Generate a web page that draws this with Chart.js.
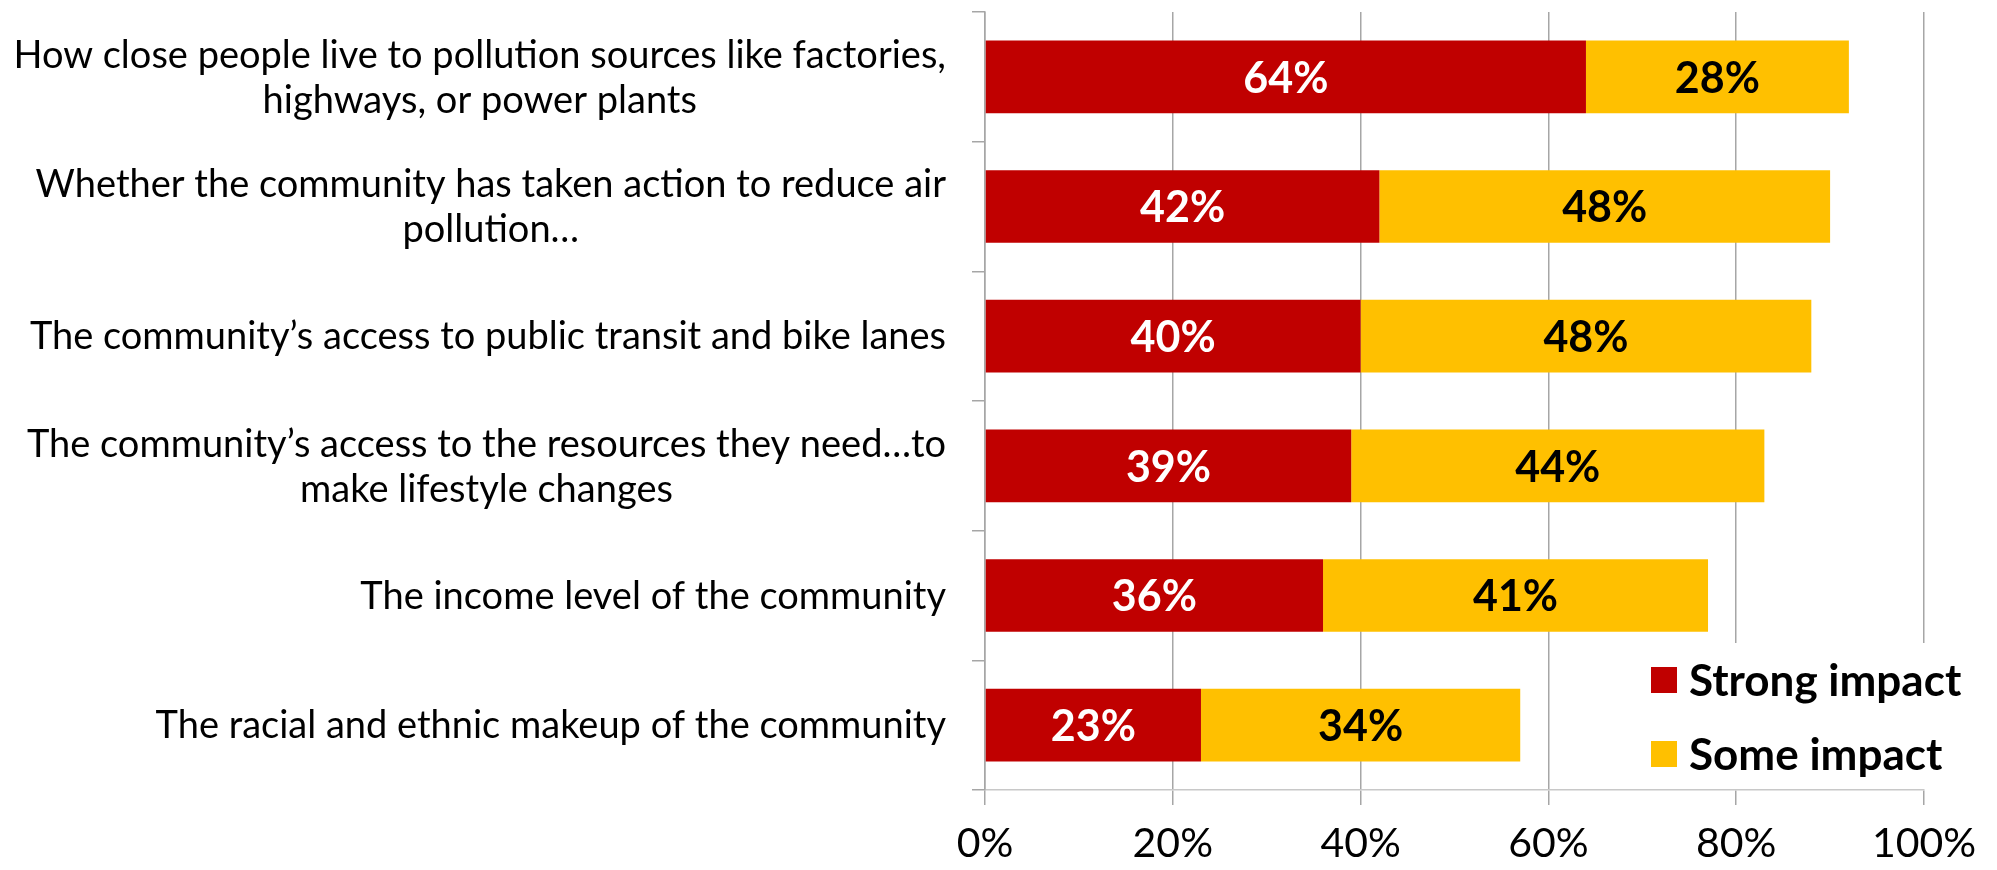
<!DOCTYPE html>
<html>
<head>
<meta charset="utf-8">
<script src="https://cdn.jsdelivr.net/npm/chart.js@4.4.1/dist/chart.umd.min.js"></script>
<style>
    html, body { margin: 0; padding: 0; background: #fff; }
    #wrap { width: 1997px; height: 870px; }
</style>
</head>
<body>
<div id="wrap"><canvas id="impactChart"></canvas></div>
<script>
// categories (one array of lines per label)
const categories = [
    ['How close people live to pollution sources like factories,', 'highways, or power plants'],
    ['Whether the community has taken action to reduce air', 'pollution…'],
    ['The community’s access to public transit and bike lanes'],
    ['The community’s access to the resources they need…to', 'make lifestyle changes'],
    ['The income level of the community'],
    ['The racial and ethnic makeup of the community']
];
const seriesNames = ['Strong impact', 'Some impact'];
const strongImpact = [64, 42, 40, 39, 36, 23];
const someImpact = [28, 48, 48, 44, 41, 34];
const xTickValues = [0, 20, 40, 60, 80, 100];

const FONT = 'Lato, "Open Sans", sans-serif';
const RED = '#C00000';
const YELLOW = '#FFC000';

// value labels inside each bar segment
const barLabels = {
    id: 'barLabels',
    afterDatasetsDraw(chart) {
        const ctx = chart.ctx;
        ctx.save();
        ctx.font = 'bold 43px ' + FONT;
        ctx.textAlign = 'center';
        ctx.textBaseline = 'middle';
        chart.data.datasets.forEach((ds, di) => {
            const meta = chart.getDatasetMeta(di);
            meta.data.forEach((bar, i) => {
                ctx.fillStyle = di === 0 ? '#ffffff' : '#000000';
                ctx.fillText(ds.data[i] + '%', (bar.x + bar.base) / 2, bar.y + 2);
            });
        });
        ctx.restore();
    }
};

// category labels: each block centered on itself, right edge near the axis
const categoryLabels = {
    id: 'categoryLabels',
    afterDraw(chart) {
        const ctx = chart.ctx;
        const yScale = chart.scales.y;
        const rightEdge = chart.chartArea.left - 39;
        const lineH = 45;
        ctx.save();
        ctx.font = '38px ' + FONT;
        ctx.fillStyle = '#000';
        ctx.textAlign = 'center';
        ctx.textBaseline = 'middle';
        categories.forEach((lines, i) => {
            const yc = yScale.getPixelForValue(i) + 1;
            const maxW = Math.max(...lines.map(l => ctx.measureText(l).width));
            const cx = rightEdge - maxW / 2;
            const y0 = yc - (lines.length - 1) * lineH / 2;
            lines.forEach((l, k) => ctx.fillText(l, cx, y0 + k * lineH));
        });
        ctx.restore();
    }
};

// legend box over the lower right of the plot
const boxLegend = {
    id: 'boxLegend',
    afterDraw(chart) {
        const ctx = chart.ctx;
        const area = chart.chartArea;
        ctx.save();
        ctx.fillStyle = '#ffffff';
        ctx.fillRect(1631, 643, chart.width - 1631, area.bottom - 1 - 643);
        ctx.font = 'bold 44px ' + FONT;
        ctx.textBaseline = 'middle';
        ctx.textAlign = 'left';
        const rows = [680, 754];
        chart.data.datasets.forEach((ds, i) => {
            ctx.fillStyle = ds.backgroundColor;
            ctx.fillRect(1651, rows[i] - 13, 26, 26);
            ctx.fillStyle = '#000';
            ctx.fillText(ds.label, 1689, rows[i] + 2);
        });
        ctx.restore();
    }
};

const canvas = document.getElementById('impactChart');
new Chart(canvas.getContext('2d'), {
    type: 'bar',
    data: {
        labels: categories,
        datasets: [
            {
                label: seriesNames[0],
                data: strongImpact,
                backgroundColor: RED,
                categoryPercentage: 1,
                barPercentage: 0.56
            },
            {
                label: seriesNames[1],
                data: someImpact,
                backgroundColor: YELLOW,
                categoryPercentage: 1,
                barPercentage: 0.56
            }
        ]
    },
    options: {
        indexAxis: 'y',
        responsive: true,
        maintainAspectRatio: false,
        animation: false,
        layout: {
            padding: { top: 12, right: 73, left: 0, bottom: 0 }
        },
        scales: {
            x: {
                stacked: true,
                min: 0,
                max: 100,
                afterBuildTicks: (scale) => {
                    scale.ticks = xTickValues.map(v => ({ value: v }));
                },
                afterFit: (scale) => { scale.height = 80; },
                grid: {
                    color: '#a6a6a6',
                    lineWidth: 1.5,
                    drawTicks: true,
                    tickLength: 15
                },
                border: { color: '#c8c8c8', width: 1.5 },
                ticks: {
                    color: '#000',
                    padding: 14,
                    maxRotation: 0,
                    font: { family: FONT, size: 41 },
                    callback: (v) => v + '%'
                }
            },
            y: {
                stacked: true,
                afterFit: (scale) => { scale.width = 985; },
                grid: {
                    offset: true,
                    drawOnChartArea: false,
                    drawTicks: true,
                    tickLength: 13,
                    color: '#a6a6a6',
                    lineWidth: 1.5
                },
                border: { color: '#a6a6a6', width: 1.5 },
                ticks: { display: false }
            }
        },
        plugins: {
            legend: { display: false },
            tooltip: { enabled: false }
        }
    },
    plugins: [barLabels, categoryLabels, boxLegend]
});
</script>
</body>
</html>
